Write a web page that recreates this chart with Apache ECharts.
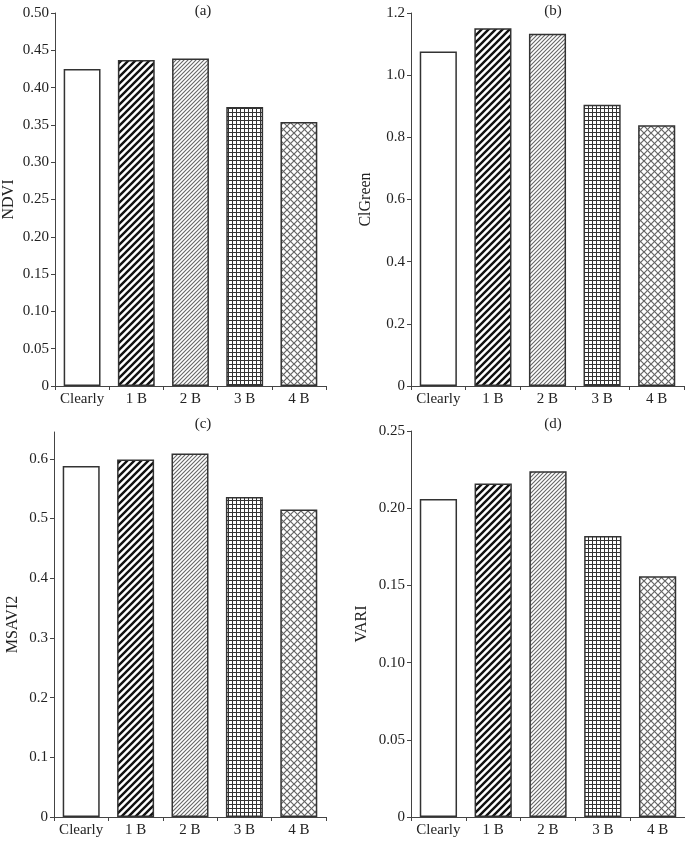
<!DOCTYPE html>
<html>
<head>
<meta charset="utf-8">
<script src="https://cdn.jsdelivr.net/npm/echarts@6/dist/echarts.min.js"></script>
<style>
html,body{margin:0;padding:0;background:#fff;}
#chart{width:685px;height:841px;}
</style>
</head>
<body>
<div id="chart"></div>
<script>
// ---- data ----
const categories = ['Clearly', '1 B', '2 B', '3 B', '4 B'];
const ndvi    = [0.425, 0.437, 0.439, 0.374, 0.354];
const clgreen = [1.076, 1.151, 1.133, 0.905, 0.839];
const msavi2  = [0.588, 0.599, 0.609, 0.536, 0.515];
const vari    = [0.206, 0.216, 0.224, 0.182, 0.156];

const panelTitles = ['(a)', '(b)', '(c)', '(d)'];
const axisNames = ['NDVI', 'ClGreen', 'MSAVI2', 'VARI'];
const ticksA = [0, 0.05, 0.10, 0.15, 0.20, 0.25, 0.30, 0.35, 0.40, 0.45, 0.50];
const ticksB = [0, 0.2, 0.4, 0.6, 0.8, 1.0, 1.2];
const ticksC = [0, 0.1, 0.2, 0.3, 0.4, 0.5, 0.6];
const ticksD = [0, 0.05, 0.10, 0.15, 0.20, 0.25];

// ---- hatch patterns ----
function tile(size, draw) {
  const c = document.createElement('canvas');
  c.width = size; c.height = size;
  const g = c.getContext('2d');
  g.fillStyle = '#fff';
  g.fillRect(0, 0, size, size);
  draw(g, size);
  return { image: c, repeat: 'repeat' };
}
function diag(g, s, dir) {
  g.beginPath();
  for (let k = -1; k <= 1; k++) {
    if (dir > 0) { g.moveTo(k * s - 1, s + 1); g.lineTo(k * s + s + 1, -1); }
    else { g.moveTo(k * s - 1, -1); g.lineTo(k * s + s + 1, s + 1); }
  }
  g.stroke();
}
const patterns = [
  '#ffffff',
  tile(7, (g, s) => { g.strokeStyle = '#111'; g.lineWidth = 2.4; diag(g, s, 1); }),
  tile(4, (g, s) => { g.strokeStyle = '#666'; g.lineWidth = 1.1; diag(g, s, 1); }),
  tile(4, (g, s) => {
    g.strokeStyle = '#333'; g.lineWidth = 1;
    g.beginPath(); g.moveTo(0.5, 0); g.lineTo(0.5, s); g.moveTo(0, 0.5); g.lineTo(s, 0.5); g.stroke();
  }),
  tile(7, (g, s) => { g.strokeStyle = '#666'; g.lineWidth = 1.2; diag(g, s, 1); diag(g, s, -1); })
];

const FONT = 'Liberation Serif';
const TXT = '#222';
const grids = [
  { left: 52, top: 13, width: 274, height: 373 },
  { left: 411, top: 13, width: 273, height: 373 },
  { left: 54, top: 432, width: 272, height: 385 },
  { left: 411, top: 431, width: 274, height: 386 }
];
const yCfg = [
  { max: 0.50, interval: 0.05, dec: 2, ticks: ticksA, gap: 38 },
  { max: 1.2, interval: 0.2, dec: 1, ticks: ticksB, gap: 37 },
  { max: 0.645, interval: 0.1, dec: 1, ticks: ticksC, gap: 33 },
  { max: 0.25, interval: 0.05, dec: 2, ticks: ticksD, gap: 41 }
];
const seriesData = [ndvi, clgreen, msavi2, vari];
const titlePos = [[203, 4], [553, 4], [203, 417], [553, 417]];

const option = {
  animation: false,
  backgroundColor: '#fff',
  title: panelTitles.map((t, i) => ({
    text: t, left: titlePos[i][0], top: titlePos[i][1], textAlign: 'center', padding: 0,
    textStyle: { fontFamily: FONT, fontSize: 15, fontWeight: 'normal', color: TXT }
  })),
  grid: grids,
  xAxis: grids.map((g, i) => ({
    type: 'category', gridIndex: i, data: categories,
    axisLine: { lineStyle: { color: '#444', width: 1 } },
    axisTick: { show: true, length: 4, interval: 0, lineStyle: { color: '#444' } },
    axisLabel: { fontFamily: FONT, fontSize: 15, color: TXT, margin: 6, interval: 0, hideOverlap: false },
    splitLine: { show: false }
  })),
  yAxis: yCfg.map((c, i) => ({
    type: 'value', gridIndex: i, min: 0, max: c.max, interval: c.interval,
    name: axisNames[i], nameLocation: 'middle', nameGap: c.gap, nameRotate: 90,
    nameTextStyle: { fontFamily: FONT, fontSize: 16, color: TXT },
    axisLine: { show: true, lineStyle: { color: '#444', width: 1 } },
    axisTick: { show: true, length: 4, lineStyle: { color: '#444' }, customValues: c.ticks },
    axisLabel: {
      fontFamily: FONT, fontSize: 15, color: TXT, margin: 6, customValues: c.ticks,
      formatter: v => (Math.abs(v) < 1e-9 ? '0' : v.toFixed(c.dec))
    },
    splitLine: { show: false }
  })),
  series: seriesData.map((d, i) => ({
    type: 'bar', xAxisIndex: i, yAxisIndex: i, barWidth: '68%',
    data: d.map((v, k) => ({
      value: v,
      itemStyle: { color: patterns[k], borderColor: '#333', borderWidth: 1.5 }
    }))
  }))
};

const chart = echarts.init(document.getElementById('chart'), null, { renderer: 'canvas' });
chart.setOption(option);
</script>
</body>
</html>
